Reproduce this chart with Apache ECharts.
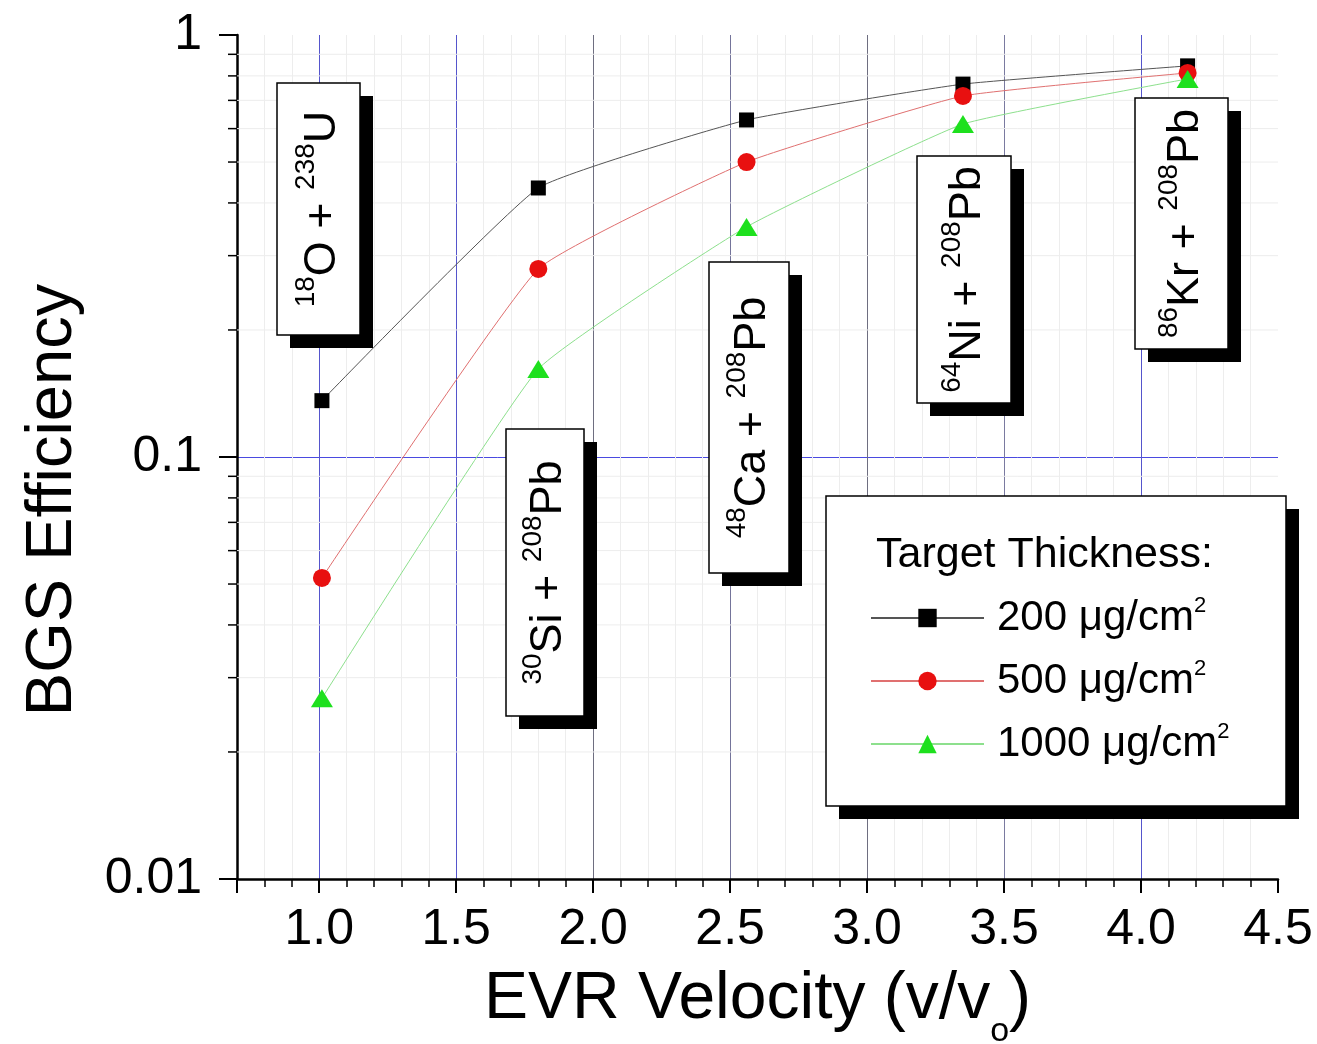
<!DOCTYPE html>
<html><head><meta charset="utf-8">
<script src="https://cdn.jsdelivr.net/npm/echarts@6/dist/echarts.min.js"></script>
<style>html,body{margin:0;padding:0;background:#fff}#c{width:1317px;height:1044px}</style>
</head><body><div id="c"></div>
<script>
// ---- data ----
const velocity = [1.01, 1.80, 2.56, 3.35, 4.17];
const eff200  = [0.136, 0.434, 0.629, 0.765, 0.845];
const eff500  = [0.0517, 0.279, 0.500, 0.717, 0.813];
const eff1000 = [0.0268, 0.1616, 0.351, 0.615, 0.787];
const seriesNames = ['200 μg/cm²', '500 μg/cm²', '1000 μg/cm²'];
const yMinorTicks = [0.02,0.03,0.04,0.05,0.06,0.07,0.08,0.09,0.2,0.3,0.4,0.5,0.6,0.7,0.8,0.9];
const reactions = [
  ['18','O + ','238','U'],
  ['30','Si + ','208','Pb'],
  ['48','Ca + ','208','Pb'],
  ['64','Ni + ','208','Pb'],
  ['86','Kr + ','208','Pb']
];
const legendTitle = 'Target Thickness:';
const xTitle = 'EVR Velocity (v/v';
const yTitle = 'BGS Efficiency';

// ---- layout / style ----
const FONT = '"Liberation Sans", Arial, Helvetica, sans-serif';
const boxes = [
  {x:277, y:83,  w:83, h:252},
  {x:506, y:429, w:78, h:287},
  {x:709, y:262, w:80, h:311},
  {x:917, y:156, w:94, h:247},
  {x:1135,y:98,  w:93, h:251}
];
const SH = 13;

const graphics = [];
boxes.forEach((b, i) => {
  const r = reactions[i];
  graphics.push({type:'rect', z:5, shape:{x:b.x+SH, y:b.y+SH, width:b.w, height:b.h}, style:{fill:'#000'}});
  graphics.push({type:'rect', z:6, shape:{x:b.x, y:b.y, width:b.w, height:b.h}, style:{fill:'#fff', stroke:'#000', lineWidth:1.5}});
  graphics.push({type:'text', z:7, x:b.x + b.w/2 + 4, y:b.y + b.h/2, rotation:Math.PI/2,
    style:{text:'{s|'+r[0]+'}{b|'+r[1]+'}{s|'+r[2]+'}{b|'+r[3]+'}', align:'center', verticalAlign:'middle',
      rich:{ b:{fontSize:45, lineHeight:60, fontFamily:FONT, fill:'#000'},
             s:{fontSize:28, lineHeight:22, verticalAlign:'top', fontFamily:FONT, fill:'#000'} }}});
});
// legend frame
graphics.push({type:'rect', z:5, shape:{x:826+SH, y:496+SH, width:460, height:310}, style:{fill:'#000'}});
graphics.push({type:'rect', z:6, shape:{x:826, y:496, width:460, height:310}, style:{fill:'#fff', stroke:'#000', lineWidth:1.5}});
graphics.push({type:'text', z:11, x:876, y:555, style:{text:legendTitle, fontSize:43, fontFamily:FONT, fill:'#000', align:'left', verticalAlign:'middle'}});

const chart = echarts.init(document.getElementById('c'), null, {renderer:'canvas'});
const mk = (arr) => velocity.map((v, i) => [v, arr[i]]);

chart.setOption({
  backgroundColor:'#fff',
  animation:false,
  grid:{left:237, right:39, top:35, bottom:165, containLabel:false, outerBoundsMode:'none'},
  xAxis:{
    type:'value', min:0.7, max:4.5, minInterval:0.5, maxInterval:0.5, splitNumber:8,
    name: '{t|'+xTitle+'}{sub|o}{t|)}', nameLocation:'middle', nameGap:80,
    nameTextStyle:{ rich:{
      t:{fontSize:66, lineHeight:80, fontFamily:FONT, color:'#000'},
      sub:{fontSize:34, lineHeight:25, padding:[55,0,0,0], verticalAlign:'top', fontFamily:FONT, color:'#000'} } },
    axisLine:{show:true, onZero:false, lineStyle:{color:'#000', width:2.5}},
    axisTick:{show:true, inside:false, length:14, lineStyle:{color:'#000', width:2}},
    minorTick:{show:true, splitNumber:5, length:8, lineStyle:{color:'#000', width:1.5}},
    axisLabel:{fontSize:50, fontFamily:FONT, color:'#000', margin:26, showMinLabel:false,
      formatter:(v)=>v.toFixed(1)},
    splitLine:{show:true, showMinLine:false, showMaxLine:false,
      lineStyle:{color:['#5555cc','#5555cc','#6e6e80','#74749a','#6e6e80','#7a7aa0','#5555cc'], width:1}},
    minorSplitLine:{show:true, lineStyle:{color:'#ededed', width:1}}
  },
  yAxis:{
    type:'log', logBase:10, min:0.01, max:1,
    name: yTitle, nameLocation:'middle', nameGap:151, nameRotate:90,
    nameTextStyle:{fontSize:65, fontFamily:FONT, color:'#000', padding:[0,86,0,0]},
    axisLine:{show:true, onZero:false, lineStyle:{color:'#000', width:2.5}},
    axisTick:{show:true, inside:false, length:18, lineStyle:{color:'#000', width:2}},
    axisLabel:{fontSize:50, fontFamily:FONT, color:'#000', margin:35},
    splitLine:{show:true, showMinLine:false, showMaxLine:false, lineStyle:{color:'#4a4ae0', width:1}}
  },
  legend:{
    show:true, orient:'vertical', left:865, top:590, z:10,
    data: seriesNames, itemWidth:113, itemHeight:23, itemGap:19,
    formatter:(n)=>'{n|'+n.replace('²','')+'}{s|2}',
    textStyle:{ rich:{
      n:{fontSize:42, lineHeight:46, padding:[0,0,0,8], fontFamily:FONT, color:'#000'},
      s:{fontSize:22, lineHeight:16, verticalAlign:'top', fontFamily:FONT, color:'#000'} } }
  },
  graphic: graphics,
  series:[
    { type:'custom', silent:true, clip:false, z:1, data: yMinorTicks.map(v=>[1, v]),
      renderItem:(params, api) => {
        const y = api.coord([1, api.value(1)])[1];
        const cs = params.coordSys;
        return {type:'group', children:[
          {type:'line', shape:{x1:cs.x, y1:y, x2:cs.x+cs.width, y2:y}, style:{stroke:'#ededed', lineWidth:1}},
          {type:'line', shape:{x1:cs.x-9, y1:y, x2:cs.x, y2:y}, style:{stroke:'#000', lineWidth:1.5}}
        ]};
      } },
    { name:seriesNames[0], type:'line', data:mk(eff200), smooth:0.12, symbol:'rect', symbolSize:15, z:3,
      itemStyle:{color:'#000'}, lineStyle:{color:'#555', width:1} },
    { name:seriesNames[1], type:'line', data:mk(eff500), smooth:0.12, symbol:'circle', symbolSize:18, z:3,
      itemStyle:{color:'#e81010'}, lineStyle:{color:'#e07070', width:1} },
    { name:seriesNames[2], type:'line', data:mk(eff1000), smooth:0.12, symbol:'triangle', symbolSize:[22,18], z:3,
      itemStyle:{color:'#1ee01e'}, lineStyle:{color:'#8de08d', width:1} }
  ]
});
</script>
</body></html>
